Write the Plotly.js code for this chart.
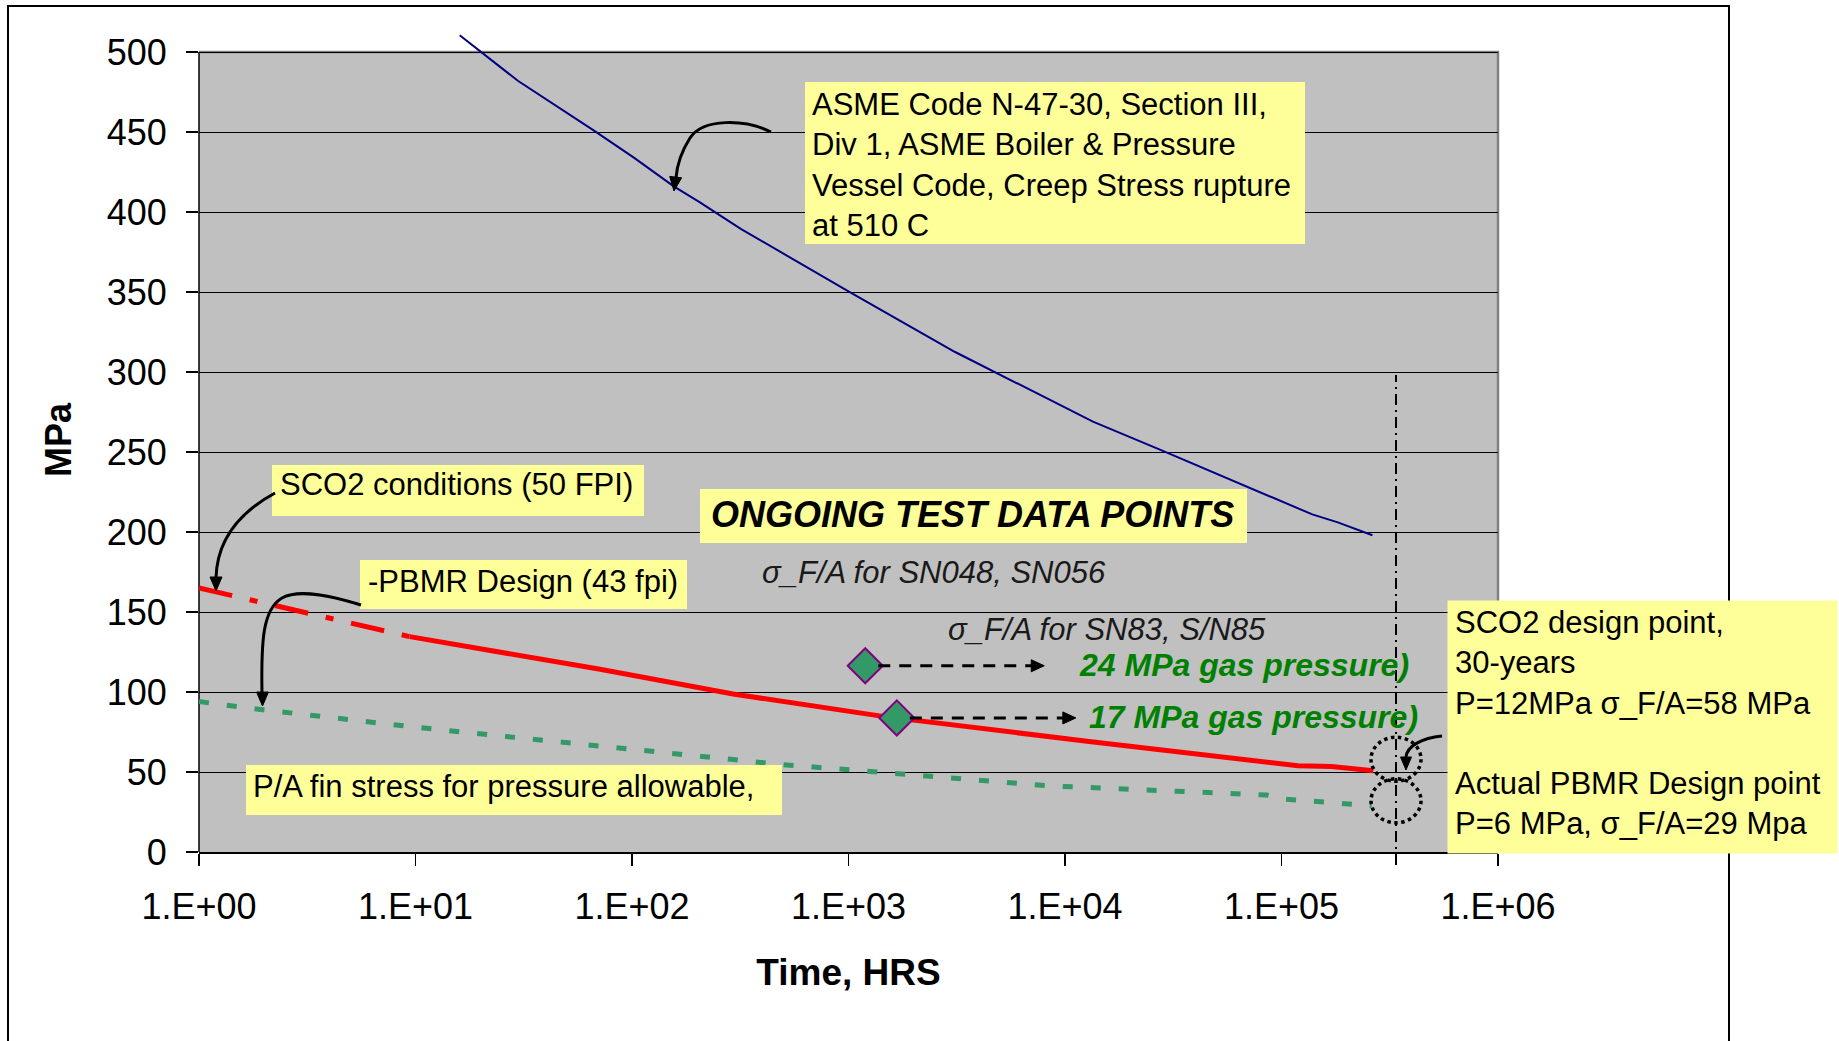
<!DOCTYPE html>
<html><head><meta charset="utf-8">
<script src="https://cdn.plot.ly/plotly-3.0.1.min.js"></script>
<style>html,body{margin:0;padding:0;background:#fff;overflow:hidden}#chart{width:1839px;height:1041px}</style>
</head><body><div id="chart"></div>
<script>
// ---------------- data ----------------
const xTickVals = [1, 10, 100, 1000, 10000, 100000, 1000000];
const xTickText = ['1.E+00', '1.E+01', '1.E+02', '1.E+03', '1.E+04', '1.E+05', '1.E+06'];

const asmeHours  = [16, 29.7, 66.5, 102, 156, 206, 318, 995, 3108, 13460, 27960, 64860, 138700, 182000, 263000];
const asmeStress = [510.5, 482, 451, 434, 416, 406, 389.5, 350.5, 312.5, 269, 251, 230, 211, 206, 198];

const sco2Hours  = [1, 3.2, 9.4];
const sco2Stress = [165, 149, 134.6];

const pbmrHours  = [9.4, 71.2, 293, 1469, 13220, 36870, 119100, 170000, 265500];
const pbmrStress = [134.6, 114.2, 98.75, 84.6, 68.9, 61.7, 53.9, 53.5, 50.8];

const paHours  = [1, 1.97, 10.3, 100.6, 486, 1049, 8600, 85500, 100000, 261000];
const paStress = [94, 88.9, 77.8, 64.1, 54.7, 51.2, 41.3, 35.6, 33.2, 28.9];

const testHours  = [1195, 1672];
const testStress = [116.4, 83.8];
const testLabels = ['24 MPa gas pressure)', '17 MPa gas pressure)'];

const designHours  = 338000;
const designStress = [58, 32];

// ---------------- geometry helpers (pixel -> paper) ----------------
const L = 199, R = 1498, T = 28, B = 852;
const W = R - L, H = B - T;
const YMAX = 515;
const px = x => (x - L) / W;
const py = y => (B - y) / H;
const X = v => L + Math.log10(v) / 6 * W;
const Y = v => B - v / YMAX * H;
const pp = (x, y) => px(x) + ',' + py(y);

const FONT = 'Liberation Sans, Arial, sans-serif';
const YELLOW = '#FFFF99';

function head(tx, ty, dx, dy, len, hw) {
  const n = Math.hypot(dx, dy); dx /= n; dy /= n;
  const bx = tx - dx * len, by = ty - dy * len;
  const qx = -dy * hw, qy = dx * hw;
  return {type: 'path', xref: 'paper', yref: 'paper', layer: 'above',
    path: 'M ' + pp(tx, ty) + ' L ' + pp(bx + qx, by + qy) + ' L ' + pp(bx - qx, by - qy) + ' Z',
    fillcolor: '#000', line: {color: '#000', width: 1}};
}
function curve(d) {
  return {type: 'path', xref: 'paper', yref: 'paper', layer: 'above', path: d,
    line: {color: '#000', width: 3}};
}
function box(x0, y0, x1, y1) {
  return {type: 'rect', xref: 'paper', yref: 'paper', layer: 'above',
    x0: px(x0), x1: px(x1), y0: py(y1), y1: py(y0), fillcolor: YELLOW, line: {width: 0}};
}

// ---------------- shapes ----------------
const shapes = [
  // outer frame
  {type: 'rect', xref: 'paper', yref: 'paper', layer: 'below', x0: px(8), x1: px(1729), y0: py(1080), y1: py(6),
   line: {color: '#000', width: 2}, fillcolor: 'rgba(0,0,0,0)'},
  // grey plot area
  {type: 'rect', xref: 'paper', yref: 'paper', layer: 'below', x0: 0, x1: 1, y0: 0, y1: 500 / YMAX,
   fillcolor: '#C0C0C0', line: {width: 0}},
  // top & right grey border
  {type: 'path', xref: 'paper', yref: 'paper', layer: 'between',
   path: 'M 0,' + (500 / YMAX) + ' L 1,' + (500 / YMAX) + ' L 1,0', line: {color: '#808080', width: 2.5}},
  // left black axis line
  {type: 'line', xref: 'paper', yref: 'paper', layer: 'between', x0: 0, x1: 0, y0: 0, y1: 500 / YMAX,
   line: {color: '#000', width: 1.5}},
  // vertical dash-dot design line
  {type: 'line', xref: 'paper', yref: 'paper', layer: 'above',
   x0: Math.log10(designHours) / 6, x1: Math.log10(designHours) / 6, y0: py(865), y1: py(375),
   line: {color: '#000', width: 2, dash: '11px,5px,2px,5px'}}
];
// dotted circles round the design points
designStress.forEach(s => {
  const cx = X(designHours), cy = Y(s);
  shapes.push({type: 'circle', xref: 'paper', yref: 'paper', layer: 'above',
    x0: px(cx - 25), x1: px(cx + 25), y0: py(cy + 22), y1: py(cy - 22),
    line: {color: '#000', width: 3.5, dash: 'dot'}});
});
// yellow boxes
shapes.push(box(805, 82, 1305, 244));     // ASME
shapes.push(box(700, 489, 1247, 543));    // ONGOING
shapes.push(box(272, 465, 644, 516));     // SCO2 conditions
shapes.push(box(360, 560, 687, 609));     // PBMR design
shapes.push(box(246, 765, 782, 815));     // P/A
// curved arrows
shapes.push(curve('M ' + pp(771, 132) + ' C ' + pp(745, 119) + ' ' + pp(703, 118) + ' ' + pp(690, 138) +
  ' C ' + pp(681, 152) + ' ' + pp(677, 165) + ' ' + pp(676, 178)));
shapes.push(head(674, 191, -0.12, 1, 14, 6));
shapes.push(curve('M ' + pp(275, 493) + ' C ' + pp(240, 512) + ' ' + pp(217, 540) + ' ' + pp(216, 578)));
shapes.push(head(216, 591, 0, 1, 14, 6));
shapes.push(curve('M ' + pp(361, 605) + ' C ' + pp(335, 597) + ' ' + pp(300, 588) + ' ' + pp(282, 598) +
  ' C ' + pp(263, 609) + ' ' + pp(261, 640) + ' ' + pp(262, 693)));
shapes.push(head(262.5, 706, 0, 1, 14, 6));
shapes.push(curve('M ' + pp(1442, 736) + ' C ' + pp(1422, 738) + ' ' + pp(1407, 746) + ' ' + pp(1406, 757)));
shapes.push(head(1406, 770, 0, 1, 13, 5.5));
// dashed arrows from the test points
testHours.forEach((h, i) => {
  const x0 = X(h), y0 = Y(testStress[i]);
  const tip = x0 + 179;
  shapes.push({type: 'line', xref: 'paper', yref: 'paper', layer: 'above',
    x0: px(x0 + 13), x1: px(tip - 12), y0: py(y0), y1: py(y0), line: {color: '#000', width: 3, dash: '12px,9px'}});
  shapes.push(head(tip, y0, 1, 0, 13, 6));
});

// ---------------- traces ----------------
const traces = [
  {x: asmeHours, y: asmeStress, mode: 'lines', line: {color: '#000080', width: 2}},
  {x: paHours, y: paStress, mode: 'lines', line: {color: '#339966', width: 5, dash: '10px,18px'}},
  {x: sco2Hours, y: sco2Stress, mode: 'lines', line: {color: '#FF0000', width: 5, dash: '34px,18px,8px,18px'}},
  {x: pbmrHours, y: pbmrStress, mode: 'lines', line: {color: '#FF0000', width: 5}},
  {x: testHours, y: testStress, mode: 'markers', cliponaxis: false,
   marker: {symbol: 'diamond', size: 27, color: '#339966', line: {color: '#800080', width: 2}}}
];

// ---------------- annotations ----------------
function txt(text, x, y, size, opts) {
  return Object.assign({xref: 'paper', yref: 'paper', x: px(x), y: py(y), xanchor: 'left', yanchor: 'middle',
    align: 'left', showarrow: false, text: text, font: {family: FONT, size: size, color: '#000'}}, opts || {});
}
const annotations = [
  // right yellow box (reaches past the frame)
  {xref: 'paper', yref: 'paper', x: px(1447), y: py(600), xanchor: 'left', yanchor: 'top',
   showarrow: false, text: '', width: 389, height: 252, borderpad: 0, bgcolor: YELLOW},
  txt('ASME Code N-47-30, Section III,<br>Div 1, ASME Boiler &amp; Pressure<br>Vessel Code, Creep Stress rupture<br>at 510 C', 810, 164.5, 31),
  txt('<b><i>ONGOING TEST DATA POINTS</i></b>', 709, 514, 36),
  txt('<i>σ_F/A for SN048, SN056</i>', 760, 572.5, 31, {font: {family: FONT, size: 31, color: '#1a1a1a'}}),
  txt('<i>σ_F/A for SN83, S/N85</i>', 946, 629, 31, {font: {family: FONT, size: 31, color: '#1a1a1a'}}),
  txt('SCO2 conditions (50 FPI)', 278, 485, 31),
  txt('-PBMR Design (43 fpi)', 366, 581.5, 31),
  txt('P/A fin stress for pressure allowable,', 251, 786, 31),
  txt('SCO2 design point,<br>30-years<br>P=12MPa σ_F/A=58 MPa', 1453, 663, 31),
  txt('Actual PBMR Design point<br>P=6 MPa, σ_F/A=29 Mpa', 1453, 803.5, 31)
];
// green labels for the test points
const labelX = [1077, 1087];
testLabels.forEach((t, i) => {
  annotations.push(txt('<b><i>' + t + '</i></b>', labelX[i], Y(testStress[i]) - 0.5, 32,
    {font: {family: FONT, size: 32, color: '#008000'}}));
});

const layout = {
  width: 1839, height: 1041,
  margin: {l: L, r: 1839 - R, t: T, b: 1041 - B, pad: 0},
  paper_bgcolor: '#fff', plot_bgcolor: 'rgba(0,0,0,0)',
  showlegend: false, hovermode: false,
  font: {family: FONT, color: '#000'},
  xaxis: {type: 'log', range: [0, 6], tickvals: xTickVals, ticktext: xTickText,
    ticks: 'outside', ticklen: 12, tickwidth: 1.5, tickcolor: '#000', ticklabelstandoff: 10,
    showgrid: false, zeroline: false, showline: true, linecolor: '#000', linewidth: 1.5,
    tickfont: {family: FONT, size: 36, color: '#000'}, automargin: false,
    title: {text: '<b>Time, HRS</b>', font: {family: FONT, size: 37, color: '#000'}, standoff: 33}},
  yaxis: {range: [0, YMAX], tick0: 0, dtick: 50,
    ticks: 'outside', ticklen: 12, tickwidth: 1.5, tickcolor: '#000', ticklabelstandoff: 12,
    showgrid: true, gridcolor: '#000', gridwidth: 1, zeroline: false, showline: false,
    tickfont: {family: FONT, size: 36, color: '#000'}, automargin: false,
    title: {text: '<b>MPa</b>', font: {family: FONT, size: 36, color: '#000'}, standoff: 24}},
  shapes: shapes,
  annotations: annotations
};

Plotly.newPlot('chart', traces, layout, {staticPlot: true, displayModeBar: false});
</script></body></html>
